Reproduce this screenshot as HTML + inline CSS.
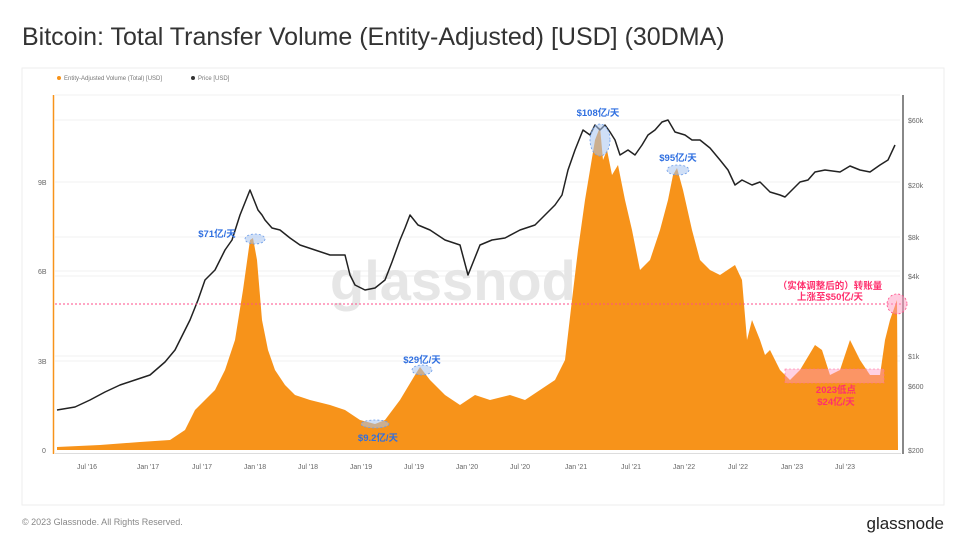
<!DOCTYPE html>
<html><head><meta charset="utf-8"><style>
body{margin:0;background:#fff;width:972px;height:546px;overflow:hidden;font-family:"Liberation Sans","Noto Sans CJK SC",sans-serif}
</style></head><body>
<svg width="972" height="546" viewBox="0 0 972 546" xmlns="http://www.w3.org/2000/svg" font-family="Liberation Sans, Noto Sans CJK SC, sans-serif">
<rect width="972" height="546" fill="#fff"/>
<text x="22" y="45" font-size="25" fill="#333">Bitcoin: Total Transfer Volume (Entity-Adjusted) [USD] (30DMA)</text>
<rect x="22" y="68" width="922" height="437" fill="#fff" stroke="#eee"/>
<circle cx="59" cy="78" r="2" fill="#f7931a"/><text x="64" y="80" font-size="6" fill="#777">Entity-Adjusted Volume (Total) [USD]</text>
<circle cx="193" cy="78" r="2" fill="#333"/><text x="198" y="80" font-size="6" fill="#777">Price [USD]</text>
<g stroke="#f1f1f1" stroke-width="1">
<line x1="55" y1="95" x2="900" y2="95"/><line x1="55" y1="120" x2="900" y2="120"/><line x1="55" y1="182" x2="900" y2="182"/><line x1="55" y1="271" x2="900" y2="271"/><line x1="55" y1="361" x2="900" y2="361"/><line x1="55" y1="237" x2="900" y2="237"/><line x1="55" y1="276" x2="900" y2="276"/><line x1="55" y1="356" x2="900" y2="356"/>
</g>
<text x="330" y="300" font-size="56" fill="#e6e6e6" font-weight="bold">glassnode</text>
<polygon fill="#f7931a" points="57,450 57,447 100,445 140,442 170,440 185,430 195,410 205,400 215,390 225,370 235,340 243,290 250,240 253,238 257,260 262,320 268,350 275,370 285,385 295,395 310,400 330,405 345,410 360,420 375,424 385,420 400,400 415,375 420,367 430,380 445,395 460,405 475,395 490,400 510,395 525,400 540,390 555,380 565,360 572,300 578,250 585,200 590,170 595,140 600,127 603,160 607,150 612,175 618,165 625,200 632,230 640,270 650,260 660,230 668,200 673,175 677,168 683,190 692,230 700,260 710,270 720,275 735,265 742,280 747,340 752,320 760,340 765,355 770,350 780,370 790,380 800,370 815,345 822,350 830,375 840,370 850,340 860,360 870,375 880,375 885,340 890,320 897,300 898,450"/>
<polyline fill="none" stroke="#222" stroke-width="1.5" stroke-linejoin="round" points="57,410 75,407 90,400 105,392 120,385 135,380 150,375 165,362 175,350 185,330 190,320 198,300 205,280 215,270 225,250 232,240 240,215 246,200 250,190 254,200 258,210 262,215 265,220 272,228 280,230 290,238 300,245 315,250 330,255 345,255 350,275 355,285 365,290 375,288 385,280 392,262 400,240 405,228 410,215 418,225 430,230 445,240 460,245 468,275 474,260 480,245 492,240 505,238 520,230 535,225 545,215 555,205 562,195 568,170 575,150 583,130 590,135 595,125 600,130 605,125 610,132 615,140 620,155 628,150 635,155 642,145 648,135 655,130 662,122 668,120 675,132 685,135 692,140 700,140 710,148 720,160 728,170 735,185 742,180 752,185 760,182 770,192 780,195 785,197 792,190 800,182 808,180 815,172 825,170 840,172 850,166 860,170 870,172 880,165 888,160 895,145"/>
<line x1="55" y1="304" x2="902" y2="304" stroke="#ff4d88" stroke-width="1" stroke-dasharray="2,2"/>
<line x1="53.5" y1="95" x2="53.5" y2="454" stroke="#f7931a" stroke-width="1.5"/>
<line x1="903" y1="95" x2="903" y2="454" stroke="#888" stroke-width="2"/>
<rect x="55" y="453" width="846" height="1" fill="#ddd"/>
<g font-size="7" fill="#666">
<text x="38" y="185">9B</text><text x="38" y="274">6B</text><text x="38" y="364">3B</text><text x="42" y="453">0</text>
<text x="908" y="123">$60k</text><text x="908" y="188">$20k</text><text x="908" y="240">$8k</text><text x="908" y="279">$4k</text><text x="908" y="359">$1k</text><text x="908" y="389">$600</text><text x="908" y="453">$200</text>
</g>
<g font-size="7" fill="#666" text-anchor="middle">
<text x="87" y="469">Jul '16</text><text x="148" y="469">Jan '17</text><text x="202" y="469">Jul '17</text><text x="255" y="469">Jan '18</text><text x="308" y="469">Jul '18</text><text x="361" y="469">Jan '19</text><text x="414" y="469">Jul '19</text><text x="467" y="469">Jan '20</text><text x="520" y="469">Jul '20</text><text x="576" y="469">Jan '21</text><text x="631" y="469">Jul '21</text><text x="684" y="469">Jan '22</text><text x="738" y="469">Jul '22</text><text x="792" y="469">Jan '23</text><text x="845" y="469">Jul '23</text>
</g>
<g fill="#a8c4f0" fill-opacity="0.55" stroke="#6a9be8" stroke-dasharray="2,2" stroke-width="0.8">
<ellipse cx="255" cy="239" rx="10" ry="5"/>
<ellipse cx="375" cy="424" rx="14" ry="4"/>
<ellipse cx="422" cy="370" rx="10" ry="5"/>
<ellipse cx="600" cy="140" rx="10" ry="16"/>
<ellipse cx="678" cy="170" rx="11" ry="5"/>
</g>
<g font-size="9.5" font-weight="bold" fill="#2f6fe0" text-anchor="middle">
<text x="217" y="237">$71亿/天</text>
<text x="378" y="441">$9.2亿/天</text>
<text x="422" y="363">$29亿/天</text>
<text x="598" y="116">$108亿/天</text>
<text x="678" y="161">$95亿/天</text>
</g>
<rect x="785" y="369" width="99" height="14" fill="#ff9ac0" fill-opacity="0.45" stroke="#ff6b9a" stroke-dasharray="2,2" stroke-width="0.6"/>
<circle cx="897" cy="304" r="10" fill="#ff9ac0" fill-opacity="0.5" stroke="#ff4d88" stroke-dasharray="2,2" stroke-width="0.8"/>
<g font-size="9.5" fill="#ff2f6d" text-anchor="middle" font-weight="bold">
<text x="830" y="289">（实体调整后的）转账量</text>
<text x="830" y="300">上涨至$50亿/天</text>
<text x="836" y="393">2023低点</text>
<text x="836" y="405">$24亿/天</text>
</g>
<text x="22" y="525" font-size="9" fill="#888">© 2023 Glassnode. All Rights Reserved.</text>
<text x="944" y="529" font-size="17" fill="#222" text-anchor="end">glassnode</text>
</svg>
</body></html>
